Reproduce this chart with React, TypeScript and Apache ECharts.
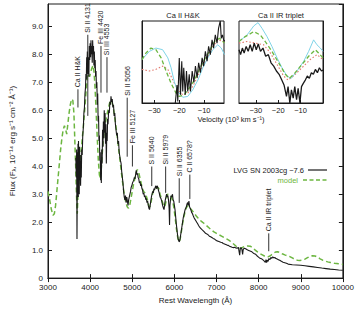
import React, { useEffect, useRef } from "react";
import * as echarts from "echarts";

// Observed spectrum of SN 2003cg (wavelength Å, flux 1e-14 erg/s/cm2/Å)
const observed: [number, number][] = [
  [3660, 4.3], [3672, 3.6], [3680, 4.6], [3688, 1.4], [3694, 3.0], [3700, 4.5], [3706, 3.2], [3712, 4.8],
  [3718, 2.9], [3724, 4.9], [3730, 3.4], [3736, 4.6], [3742, 3.0], [3750, 4.7], [3758, 3.5], [3766, 4.4],
  [3774, 3.3], [3782, 4.2], [3790, 3.6], [3800, 4.6], [3812, 4.4], [3825, 5.1], [3840, 5.4], [3852, 5.9],
  [3865, 6.1], [3878, 6.6], [3890, 6.8], [3900, 7.3], [3910, 7.1], [3918, 7.9], [3926, 7.5], [3934, 8.1],
  [3942, 7.3], [3954, 7.6], [3962, 7.9], [3970, 7.2], [3980, 8.3], [3990, 7.8], [4000, 8.4], [4010, 7.9],
  [4020, 8.5], [4030, 8.0], [4040, 8.3], [4050, 7.7], [4060, 8.5], [4070, 8.0], [4080, 8.3], [4090, 7.6],
  [4100, 8.1], [4110, 7.5], [4120, 7.8], [4130, 7.2], [4140, 7.4], [4150, 6.8], [4160, 7.0], [4170, 6.2],
  [4180, 6.6], [4190, 5.6], [4200, 5.8], [4210, 4.9], [4220, 5.1], [4230, 4.2], [4240, 4.5], [4250, 3.5],
  [4258, 4.2], [4266, 3.4], [4275, 4.6], [4285, 4.1], [4295, 5.3], [4305, 4.7], [4315, 5.6], [4325, 5.0],
  [4335, 6.0], [4345, 5.2], [4355, 5.9], [4365, 4.8], [4375, 5.5], [4385, 4.1], [4395, 5.2], [4405, 4.9],
  [4415, 5.7], [4425, 5.5], [4440, 6.0], [4455, 5.9], [4470, 6.3], [4485, 6.2], [4495, 6.5], [4510, 6.3],
  [4525, 6.4], [4540, 6.1], [4555, 6.2], [4570, 5.8], [4585, 5.9], [4600, 5.5], [4615, 5.5], [4630, 5.1],
  [4645, 5.2], [4660, 4.8], [4675, 4.9], [4690, 4.5], [4705, 4.5], [4720, 4.2], [4735, 4.1], [4750, 3.8],
  [4765, 3.6], [4780, 3.4], [4795, 3.1], [4810, 2.9], [4825, 2.8], [4840, 2.95], [4855, 2.7], [4870, 2.9],
  [4885, 2.75], [4900, 2.6], [4915, 2.8], [4930, 2.9], [4945, 3.0], [4960, 3.1], [4975, 3.25], [4990, 3.3],
  [5005, 3.4], [5020, 3.45], [5035, 3.5], [5050, 3.6], [5065, 3.55], [5080, 3.7], [5095, 3.85], [5110, 3.7],
  [5125, 3.75], [5140, 3.6], [5155, 3.55], [5170, 3.4], [5185, 3.45], [5200, 3.3], [5215, 3.35], [5230, 3.2],
  [5245, 3.15], [5260, 3.0], [5275, 3.05], [5290, 2.9], [5305, 2.95], [5320, 2.8], [5335, 2.85], [5350, 2.7],
  [5365, 2.75], [5380, 2.6], [5395, 2.5], [5410, 2.45], [5425, 2.6], [5440, 2.75], [5455, 2.9], [5470, 3.0],
  [5485, 3.1], [5500, 3.05], [5515, 3.2], [5530, 3.15], [5545, 3.25], [5560, 3.3], [5575, 3.2], [5590, 3.3],
  [5605, 3.25], [5620, 3.15], [5640, 3.05], [5660, 2.9], [5680, 2.85], [5700, 2.75], [5720, 2.6], [5740, 2.5],
  [5755, 2.45], [5770, 2.65], [5785, 2.8], [5800, 2.9], [5815, 3.0], [5830, 2.9], [5845, 2.95], [5860, 2.8],
  [5875, 2.5], [5885, 1.9], [5895, 2.6], [5910, 2.85], [5925, 2.95], [5940, 2.9], [5955, 3.0], [5970, 2.8],
  [5985, 2.75], [6000, 2.6], [6015, 2.45], [6030, 2.2], [6045, 1.95], [6060, 1.75], [6075, 1.55], [6090, 1.4],
  [6105, 1.32], [6120, 1.3], [6135, 1.4], [6150, 1.55], [6165, 1.7], [6180, 1.85], [6195, 2.0], [6210, 2.15],
  [6225, 2.25], [6240, 2.35], [6255, 2.45], [6270, 2.5], [6285, 2.55], [6300, 2.65], [6315, 2.7], [6330, 2.6],
  [6345, 2.75], [6360, 2.55], [6375, 2.5], [6390, 2.45], [6410, 2.35], [6430, 2.3], [6450, 2.22], [6470, 2.15],
  [6490, 2.1], [6510, 2.05], [6530, 2.0], [6550, 1.95], [6575, 1.88], [6600, 1.82], [6625, 1.78], [6650, 1.74],
  [6680, 1.7], [6710, 1.65], [6740, 1.6], [6770, 1.58], [6800, 1.55], [6830, 1.5], [6860, 1.48], [6890, 1.45],
  [6920, 1.42], [6950, 1.4], [6980, 1.36], [7010, 1.33], [7040, 1.32], [7070, 1.3], [7100, 1.28], [7130, 1.27],
  [7160, 1.24], [7190, 1.22], [7220, 1.2], [7250, 1.18], [7280, 1.17], [7310, 1.14], [7340, 1.12], [7370, 1.1],
  [7400, 1.09], [7430, 1.1], [7460, 1.08], [7490, 1.07], [7520, 1.1], [7550, 0.82], [7565, 1.05], [7580, 1.09],
  [7600, 1.05], [7620, 0.85], [7635, 1.03], [7660, 1.07], [7690, 1.05], [7720, 1.02], [7750, 1.0], [7780, 0.98],
  [7810, 0.96], [7840, 0.94], [7870, 0.9], [7900, 0.87], [7930, 0.85], [7960, 0.8], [7990, 0.76], [8020, 0.72],
  [8050, 0.7], [8080, 0.68], [8110, 0.64], [8140, 0.6], [8160, 0.56], [8175, 0.66], [8190, 0.55], [8205, 0.64],
  [8225, 0.6], [8245, 0.7], [8270, 0.66], [8290, 0.74], [8310, 0.7], [8335, 0.76], [8360, 0.72], [8385, 0.74],
  [8410, 0.7], [8440, 0.68], [8470, 0.66], [8500, 0.64], [8540, 0.6], [8580, 0.57], [8620, 0.55], [8660, 0.53],
  [8700, 0.5], [8800, 0.48], [8900, 0.47], [9000, 0.46], [9100, 0.44], [9200, 0.42], [9300, 0.4], [9400, 0.38],
  [9500, 0.36], [9600, 0.34], [9700, 0.32], [9800, 0.31], [9900, 0.29], [10000, 0.28],
];

// Synthetic spectrum
const model: [number, number][] = [
  [3000, 3.1], [3040, 2.8], [3080, 2.45], [3120, 2.25], [3150, 2.3], [3180, 2.6], [3210, 3.1], [3240, 3.6],
  [3270, 4.1], [3300, 4.6], [3330, 5.0], [3360, 5.3], [3390, 5.45], [3420, 5.3], [3445, 5.15], [3470, 5.5],
  [3500, 5.9], [3530, 6.2], [3560, 6.4], [3590, 6.35], [3615, 5.9], [3635, 5.0], [3655, 4.1], [3670, 3.3],
  [3685, 2.6], [3695, 2.3], [3710, 2.9], [3730, 3.5], [3760, 4.1], [3790, 4.6], [3820, 5.1], [3850, 5.6],
  [3880, 6.2], [3905, 6.7], [3930, 7.2], [3950, 7.45], [3970, 7.3], [3990, 7.2], [4010, 7.35], [4040, 7.5],
  [4070, 7.6], [4090, 7.4], [4110, 7.0], [4130, 6.4], [4150, 5.7], [4170, 5.0], [4195, 4.2], [4220, 3.7],
  [4240, 3.55], [4260, 3.8], [4280, 4.3], [4310, 4.9], [4340, 5.3], [4370, 5.6], [4400, 5.85], [4430, 6.05],
  [4460, 6.25], [4490, 6.35], [4520, 6.3], [4550, 6.1], [4580, 5.8], [4610, 5.45], [4640, 5.1], [4670, 4.7],
  [4700, 4.35], [4730, 3.95], [4760, 3.55], [4790, 3.2], [4820, 2.9], [4850, 2.7], [4880, 2.55], [4910, 2.5],
  [4940, 2.6], [4970, 2.85], [5000, 3.1], [5030, 3.35], [5060, 3.55], [5090, 3.75], [5120, 3.88], [5150, 3.8],
  [5180, 3.6], [5210, 3.4], [5240, 3.2], [5270, 3.1], [5300, 3.05], [5330, 2.95], [5360, 2.8], [5390, 2.6],
  [5420, 2.55], [5450, 2.75], [5480, 3.0], [5510, 3.15], [5540, 3.15], [5570, 3.2], [5600, 3.25], [5630, 3.2],
  [5660, 3.0], [5690, 2.85], [5720, 2.7], [5750, 2.55], [5780, 2.6], [5810, 2.8], [5840, 3.0], [5870, 3.0],
  [5900, 2.95], [5930, 2.9], [5960, 2.75], [5990, 2.5], [6020, 2.15], [6050, 1.75], [6080, 1.45], [6100, 1.32],
  [6120, 1.3], [6140, 1.42], [6160, 1.6], [6190, 1.9], [6220, 2.15], [6250, 2.35], [6280, 2.5], [6310, 2.58],
  [6340, 2.58], [6370, 2.52], [6400, 2.45], [6440, 2.38], [6480, 2.3], [6520, 2.22], [6560, 2.15], [6600, 2.08],
  [6650, 2.02], [6700, 1.96], [6760, 1.88], [6820, 1.8], [6880, 1.72], [6940, 1.65], [7000, 1.6], [7060, 1.55],
  [7120, 1.5], [7180, 1.45], [7240, 1.4], [7300, 1.35], [7360, 1.28], [7420, 1.2], [7480, 1.12], [7540, 1.08],
  [7580, 1.07], [7620, 1.1], [7680, 1.14], [7740, 1.15], [7800, 1.14], [7860, 1.08], [7920, 1.0], [7980, 0.93],
  [8040, 0.87], [8100, 0.82], [8160, 0.77], [8220, 0.76], [8280, 0.8], [8340, 0.88], [8400, 0.93], [8450, 0.94],
  [8500, 0.92], [8560, 0.87], [8620, 0.83], [8680, 0.8], [8740, 0.77], [8800, 0.72], [8860, 0.67], [8920, 0.64],
  [8980, 0.63], [9040, 0.64], [9100, 0.68], [9160, 0.73], [9220, 0.78], [9280, 0.8], [9340, 0.79], [9400, 0.75],
  [9460, 0.69], [9520, 0.64], [9580, 0.61], [9640, 0.58], [9700, 0.56], [9800, 0.53], [9900, 0.51], [10000, 0.49],
];

// Line identifications: wavelength, bottom and top of the tick (flux units)
const lineIds: { label: string; wave: number; low: number; high: number }[] = [
  { label: "Ca II H&K", wave: 3711, low: 6.1, high: 6.75 },
  { label: "Si II 4131", wave: 3945, low: 5.8, high: 8.7 },
  { label: "Fe III 4420", wave: 4258, low: 6.63, high: 8.3 },
  { label: "Si III 4553", wave: 4400, low: 6.63, high: 7.9 },
  { label: "Si II 5056", wave: 4880, low: 4.34, high: 6.45 },
  { label: "Fe III 5127", wave: 5004, low: 3.99, high: 4.75 },
  { label: "S II 5640", wave: 5463, low: 3.29, high: 3.99 },
  { label: "Si II 5979", wave: 5793, low: 3.05, high: 3.99 },
  { label: "Si II 6355", wave: 6115, low: 2.69, high: 3.57 },
  { label: "C II 6578?", wave: 6367, low: 2.83, high: 3.7 },
  { label: "Ca II IR triplet", wave: 8240, low: 0.96, high: 1.6 },
];

const velTicks = [-30, -20, -10];

// Ca II H&K region (velocity 10^3 km/s, normalised flux)
const hkObserved: [number, number][] = [
  [-21.6, 0.0], [-20.9, 0.22], [-20.6, 0.02], [-20.0, 0.55], [-19.5, 0.1], [-19.0, 0.51], [-18.6, 0.14],
  [-18.2, 0.43], [-17.6, 0.1], [-17.1, 0.39], [-16.6, 0.14], [-16.0, 0.35], [-15.5, 0.14], [-14.8, 0.39],
  [-14.1, 0.25], [-13.5, 0.45], [-12.8, 0.31], [-12.2, 0.49], [-11.5, 0.37], [-10.8, 0.55], [-10.2, 0.45],
  [-9.5, 0.63], [-8.8, 0.51], [-8.2, 0.69], [-7.5, 0.59], [-6.8, 0.77], [-6.2, 0.67], [-5.5, 0.83],
  [-4.8, 0.73], [-4.2, 0.91], [-3.5, 1.0], [-3.1, 0.79], [-2.6, 0.83], [-2.0, 0.75], [-1.8, 0.77],
];
const hkModelSolid: [number, number][] = [
  [-35, 0.53], [-32, 0.63], [-29.4, 0.67], [-26.7, 0.65], [-24.6, 0.55], [-23.3, 0.43], [-22, 0.26],
  [-20.6, 0.14], [-18.6, 0.07], [-16.6, 0.08], [-14.6, 0.16], [-12.5, 0.28], [-10.5, 0.43], [-8.5, 0.55],
  [-6.5, 0.65], [-4.5, 0.71], [-3.1, 0.67], [-1.8, 0.59],
];
const hkModelDashed: [number, number][] = [
  [-35, 0.53], [-33.4, 0.61], [-31.4, 0.67], [-29.4, 0.65], [-27.3, 0.55], [-25.3, 0.39], [-23.3, 0.24],
  [-21.3, 0.12], [-20, 0.08], [-18, 0.1], [-16, 0.18], [-13.9, 0.28], [-11.9, 0.41], [-9.9, 0.53],
  [-7.9, 0.63], [-5.8, 0.75], [-3.8, 0.79], [-1.8, 0.73],
];
const hkModelDotted: [number, number][] = [
  [-35, 0.41], [-32, 0.39], [-29.4, 0.41], [-26.7, 0.45], [-24.6, 0.41], [-22.6, 0.28], [-20.6, 0.16],
  [-18.6, 0.1], [-16.6, 0.12], [-14.6, 0.2], [-12.5, 0.33], [-10.5, 0.45], [-8.5, 0.57], [-6.5, 0.69],
  [-4.5, 0.77], [-1.8, 0.75],
];

// Ca II infrared triplet region
const irObserved: [number, number][] = [
  [-37.5, 0.65], [-36.8, 0.59], [-36, 0.67], [-35.2, 0.61], [-34.3, 0.69], [-33.4, 0.63], [-32.5, 0.71],
  [-31.6, 0.63], [-30.7, 0.73], [-29.8, 0.65], [-28.9, 0.72], [-27.9, 0.63], [-26.8, 0.67], [-25.6, 0.57],
  [-24.4, 0.59], [-23.2, 0.49], [-22, 0.45], [-20.8, 0.39], [-19.6, 0.35], [-18.4, 0.28], [-17.4, 0.22],
  [-16.3, 0.08], [-15.6, 0.2], [-14.8, 0.0], [-14.1, 0.16], [-13.3, 0.06], [-12.6, 0.2], [-11.8, 0.04],
  [-11.1, 0.18], [-10.3, 0.0], [-9.6, 0.2], [-8.8, 0.24], [-7.9, 0.28], [-7, 0.33], [-6.1, 0.3],
  [-5.2, 0.37], [-4.3, 0.35], [-3.4, 0.41], [-2.5, 0.37], [-1.6, 0.43], [-0.7, 0.39], [0, 0.4],
];
const irModelSolid: [number, number][] = [
  [-37.5, 0.75], [-33.9, 0.83], [-30.9, 0.94], [-29, 0.98], [-27.2, 0.91], [-25, 0.81], [-22.8, 0.69],
  [-20.5, 0.55], [-18.3, 0.43], [-16.1, 0.33], [-14.2, 0.3], [-11.6, 0.39], [-8.6, 0.51], [-6.4, 0.63],
  [-4.2, 0.77], [-2.7, 0.71], [-1.2, 0.67], [0, 0.63],
];
const irModelDashed: [number, number][] = [
  [-37.5, 0.75], [-34.7, 0.81], [-30.9, 0.87], [-28, 0.83], [-25.8, 0.75], [-22.8, 0.63], [-19.8, 0.49],
  [-16.8, 0.35], [-15, 0.3], [-12.4, 0.37], [-9.4, 0.47], [-6.4, 0.57], [-3.4, 0.65], [-2, 0.61], [0, 0.55],
];
const irModelDotted: [number, number][] = [
  [-37.5, 0.73], [-33.9, 0.75], [-30.2, 0.73], [-26.5, 0.71], [-23.5, 0.61], [-20.5, 0.47], [-17.6, 0.33],
  [-15.6, 0.28], [-13.1, 0.33], [-9.4, 0.43], [-5.7, 0.53], [-2.7, 0.59], [0, 0.53],
];

const FONT = '"Liberation Sans", Arial, sans-serif';
const INK = "#1a1a1a";
const GREEN = "#6cb640";
const CYAN = "#7fd4e8";
const RED = "#e0766a";

function insetAxis(gridIndex: number, min: number, max: number) {
  return {
    type: "value",
    gridIndex,
    min,
    max,
    axisLine: { show: true, lineStyle: { color: INK, width: 1 } },
    axisTick: { show: true, inside: true, length: 3, customValues: velTicks, lineStyle: { color: INK } },
    axisLabel: {
      show: true,
      customValues: velTicks,
      fontSize: 7.5,
      fontFamily: FONT,
      color: INK,
      margin: 3,
      formatter: (v: number) => String(v).replace("-", "\u2212"),
    },
    splitLine: { show: false },
  };
}

function insetY(gridIndex: number) {
  return {
    type: "value",
    gridIndex,
    min: 0,
    max: 1,
    axisLine: { show: true, lineStyle: { color: INK } },
    axisTick: { show: false },
    axisLabel: { show: false },
    splitLine: { show: false },
  };
}

function lineSeries(data: [number, number][], xi: number, yi: number, color: string, width: number, type: any) {
  return {
    type: "line",
    xAxisIndex: xi,
    yAxisIndex: yi,
    data,
    showSymbol: false,
    symbol: "none",
    lineStyle: { color, width, type },
    silent: true,
    z: 3,
  };
}

export default function App() {
  const ref = useRef<HTMLDivElement>(null);

  useEffect(() => {
    if (!ref.current) return;
    const chart = echarts.init(ref.current, undefined, { renderer: "svg" });

    const mainAxisCommon = {
      axisLine: { show: true, lineStyle: { color: INK, width: 1 } },
      splitLine: { show: false },
    };

    chart.setOption({
      animation: false,
      backgroundColor: "#fff",
      grid: [
        { left: 40, top: 4, right: 12, bottom: 26, show: true, borderColor: INK, borderWidth: 1 },
        { left: 142, top: 21, width: 82, height: 82, show: true, borderColor: INK, borderWidth: 1, backgroundColor: "#fff" },
        { left: 239, top: 21, width: 84, height: 82, show: true, borderColor: INK, borderWidth: 1, backgroundColor: "#fff" },
      ],
      xAxis: [
        {
          type: "value",
          gridIndex: 0,
          min: 3000,
          max: 10000,
          interval: 1000,
          ...mainAxisCommon,
          axisTick: { show: true, inside: true, length: 4, lineStyle: { color: INK } },
          axisLabel: { fontSize: 8, fontFamily: FONT, color: INK, margin: 5, formatter: (v: number) => String(v) },
          name: "Rest Wavelength (\u00c5)",
          nameLocation: "middle",
          nameGap: 17,
          nameTextStyle: { fontSize: 8, fontFamily: FONT, color: INK },
        },
        {
          type: "value",
          gridIndex: 0,
          position: "top",
          min: 3000,
          max: 10000,
          interval: 1000,
          ...mainAxisCommon,
          axisTick: { show: true, inside: true, length: 4, lineStyle: { color: INK } },
          axisLabel: { show: false },
        },
        insetAxis(1, -35, -2),
        insetAxis(2, -37.5, 0),
      ],
      yAxis: [
        {
          type: "value",
          gridIndex: 0,
          min: 0,
          max: 9.8,
          interval: 1,
          ...mainAxisCommon,
          axisTick: { show: true, inside: true, length: 4, lineStyle: { color: INK } },
          axisLabel: {
            fontSize: 8,
            fontFamily: FONT,
            color: INK,
            margin: 5,
            showMaxLabel: false,
            formatter: (v: number) => (v === 0 ? "0" : v.toFixed(1)),
          },
          name: "Flux (F{sub|\u03bb}, 10\u207b\u00b9\u2074 erg s\u207b\u00b9 cm\u207b\u00b2 \u00c5\u207b\u00b9)",
          nameLocation: "middle",
          nameGap: 31,
          nameRotate: 90,
          nameTextStyle: {
            fontSize: 8,
            fontFamily: FONT,
            color: INK,
            rich: { sub: { fontSize: 6, fontFamily: FONT, color: INK, padding: [4, 0, 0, 0] } },
          },
        },
        {
          type: "value",
          gridIndex: 0,
          position: "right",
          min: 0,
          max: 9.8,
          interval: 1,
          ...mainAxisCommon,
          axisTick: { show: true, inside: true, length: 4, lineStyle: { color: INK } },
          axisLabel: { show: false },
        },
        insetY(1),
        insetY(2),
      ],
      graphic: [
        { type: "text", x: 183, y: 15, style: { text: "Ca II H&K", font: `7.5px ${FONT}`, fill: INK, align: "center", verticalAlign: "middle" } },
        { type: "text", x: 281, y: 15, style: { text: "Ca II IR triplet", font: `7.5px ${FONT}`, fill: INK, align: "center", verticalAlign: "middle" } },
        { type: "text", x: 231, y: 119.5, style: { text: "Velocity (10\u00b3 km s\u207b\u00b9)", font: `7.5px ${FONT}`, fill: INK, align: "center", verticalAlign: "middle" } },
        { type: "text", x: 304, y: 170, style: { text: "LVG SN 2003cg \u22127.6", font: `7.5px ${FONT}`, fill: INK, align: "right", verticalAlign: "middle" } },
        { type: "line", shape: { x1: 308, y1: 170, x2: 327, y2: 170 }, style: { stroke: INK, lineWidth: 1.2 } },
        { type: "text", x: 298, y: 180, style: { text: "model", font: `7.5px ${FONT}`, fill: GREEN, align: "right", verticalAlign: "middle" } },
        { type: "line", shape: { x1: 303, y1: 180, x2: 327, y2: 180 }, style: { stroke: GREEN, lineWidth: 1.4, lineDash: [4, 2.5] } },
      ],
      series: [
        lineSeries(model, 0, 0, GREEN, 1.5, [5, 3]),
        lineSeries(observed, 0, 0, INK, 1.1, "solid"),
        {
          type: "custom",
          xAxisIndex: 0,
          yAxisIndex: 0,
          silent: true,
          z: 4,
          data: lineIds.map((d) => [d.wave, d.low, d.high]),
          renderItem: (params: any, api: any) => {
            const id = lineIds[params.dataIndex];
            const p1 = api.coord([api.value(0), api.value(1)]);
            const p2 = api.coord([api.value(0), api.value(2)]);
            return {
              type: "group",
              children: [
                { type: "line", shape: { x1: p1[0], y1: p1[1], x2: p2[0], y2: p2[1] }, style: { stroke: INK, lineWidth: 0.9 } },
                {
                  type: "text",
                  x: p2[0],
                  y: p2[1] - 2,
                  rotation: Math.PI / 2,
                  style: { text: id.label, font: `7px ${FONT}`, fill: INK, align: "left", verticalAlign: "middle" },
                },
              ],
            };
          },
        },
        lineSeries(hkModelDotted, 2, 2, RED, 1.1, [1.5, 2]),
        lineSeries(hkModelSolid, 2, 2, CYAN, 1, "solid"),
        lineSeries(hkModelDashed, 2, 2, GREEN, 1.3, [4, 2.5]),
        lineSeries(hkObserved, 2, 2, INK, 1.1, "solid"),
        lineSeries(irModelDotted, 3, 3, RED, 1.1, [1.5, 2]),
        lineSeries(irModelSolid, 3, 3, CYAN, 1, "solid"),
        lineSeries(irModelDashed, 3, 3, GREEN, 1.3, [4, 2.5]),
        lineSeries(irObserved, 3, 3, INK, 1.3, "solid"),
      ],
    });

    return () => chart.dispose();
  }, []);

  return <div ref={ref} style={{ position: "absolute", left: 0, top: 0, width: 357, height: 309 }} />;
}
